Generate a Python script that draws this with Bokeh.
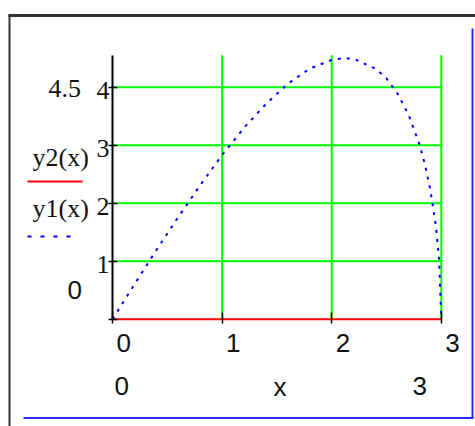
from bokeh.plotting import figure
from bokeh.models import Label, LabelSet, Arrow, FixedTicker, Range1d, ColumnDataSource
from bokeh.core.properties import value
from bokeh.embed import file_html
from bokeh.resources import INLINE

# ---- data ----
x_vals = [0.0, 0.2, 0.4, 0.6, 0.8, 1.0, 1.2, 1.4, 1.6, 1.8, 2.0, 2.1, 2.2, 2.4, 2.5, 2.6, 2.7, 2.8, 2.85, 2.9, 2.95, 2.98, 3.0]
y1_vals = [0.0, 0.60, 1.19, 1.76, 2.31, 2.83, 3.30, 3.71, 4.06, 4.32, 4.47, 4.50, 4.49, 4.32, 4.15, 3.89, 3.53, 3.02, 2.67, 2.23, 1.62, 1.03, 0.0]
y2_x = [0.0, 3.0]
y2_vals = [0.0, 0.0]
x_ticks = [0, 1, 2, 3]
x_tick_labels = ["0", "1", "2", "3"]
y_ticks = [0, 1, 2, 3, 4]
y_label_ticks = [1, 2, 3, 4]
y_tick_labels = ["1", "2", "3", "4"]
grid_x = [1, 2, 3]
grid_y = [1, 2, 3, 4]
x_lo, x_hi = 0.0, 3.0
y_lo, y_box_top = 0.0, 4.55
x_limit_labels = ["0", "3"]
y_limit_labels = ["0", "4.5"]
x_name = "x"
trace_names = ["y2(x)", "y1(x)"]

SERIF = "Liberation Serif"
SANS = "Liberation Sans"
W, H = 475, 426

# the frame covers the whole canvas; data ranges chosen so the plot box sits where it does
p = figure(width=W, height=H, output_backend="svg", toolbar_location=None,
           x_range=Range1d(-1.0219, 3.312), y_range=Range1d(-1.85, 5.495),
           min_border=0, background_fill_color="white", border_fill_color="white")
p.outline_line_color = None
p.grid.visible = False

# grid lines (green) inside the plot box
p.segment(x0=grid_x, y0=[y_lo] * len(grid_x), x1=grid_x, y1=[y_box_top] * len(grid_x),
          line_color="#00ff00", line_width=2)
p.segment(x0=[x_lo] * len(grid_y), y0=grid_y, x1=[x_hi] * len(grid_y), y1=grid_y,
          line_color="#00ff00", line_width=2)

# axes at fixed locations
xa = p.xaxis[0]
xa.fixed_location = 0
xa.bounds = (x_lo, x_hi)
xa.ticker = FixedTicker(ticks=x_ticks)
xa.axis_line_color = None
xa.major_tick_line_color = "black"
xa.major_tick_line_width = 1.5
xa.major_tick_in = 7
xa.major_tick_out = 4
xa.minor_tick_line_color = None
xa.major_label_overrides = {t: "" for t in x_ticks}

ya = p.yaxis[0]
ya.fixed_location = 0
ya.bounds = (y_lo, y_box_top)
ya.ticker = FixedTicker(ticks=y_ticks)
ya.axis_line_color = "black"
ya.axis_line_width = 2
ya.major_tick_line_color = "black"
ya.major_tick_line_width = 1.5
ya.major_tick_in = 5
ya.major_tick_out = 4
ya.minor_tick_line_color = None
ya.major_label_overrides = {t: "" for t in y_ticks}

# traces
p.line(y2_x, y2_vals, line_color="#ff0000", line_width=2)
p.line(x_vals, y1_vals, line_color="#0000ff", line_width=2, line_dash="3 6")

# tick labels placed the way Mathcad places them
xsrc = ColumnDataSource(dict(x=x_ticks, y=[0] * len(x_ticks), t=x_tick_labels))
p.add_layout(LabelSet(x="x", y="y", text="t", source=xsrc, x_offset=4, y_offset=-33,
                      text_font=value(SANS), text_font_size=value("26px"), text_align="left",
                      text_baseline="alphabetic", text_color="#111111"))
ysrc = ColumnDataSource(dict(x=[0] * len(y_label_ticks), y=y_label_ticks, t=y_tick_labels))
p.add_layout(LabelSet(x="x", y="y", text="t", source=ysrc, x_offset=-3, y_offset=-12,
                      text_font=value(SERIF), text_font_size=value("26px"), text_align="right",
                      text_baseline="alphabetic", text_color="#111111"))

# page pixel -> screen units (frame == canvas)
def sx(px):
    return px
def sy(py):
    return H - py

LABEL_FIX = 9  # single Label draws lower than LabelSet for the same baseline

def lab(text, px, py, font, size):
    p.add_layout(Label(x=sx(px), y=sy(py - LABEL_FIX), x_units="screen", y_units="screen", text=text,
                       text_font=font, text_font_size=size, text_align="left",
                       text_baseline="alphabetic", text_color="#111111"))

lab(y_limit_labels[1], 48, 97, SERIF, "26px")
lab(y_limit_labels[0], 67, 298, SANS, "26px")
lab(x_limit_labels[0], 114, 394, SANS, "26px")
lab(x_limit_labels[1], 412, 394, SANS, "26px")
lab(x_name, 273, 395, SANS, "26px")
lab(trace_names[0], 32, 166, SERIF, "26px")
lab(trace_names[1], 32, 217, SERIF, "26px")

def seg(x0, y0, x1, y1, color, width, dash="solid"):
    p.add_layout(Arrow(end=None, x_start=sx(x0), y_start=sy(y0), x_end=sx(x1), y_end=sy(y1),
                       start_units="screen", end_units="screen",
                       line_color=color, line_width=width, line_dash=dash))

# legend samples
seg(27, 181, 82, 181, "#ff0000", 2)
seg(27, 236, 74, 236, "#0000ff", 2, "4 9")

# outer region frame
seg(8, 15, 475, 15, "#333333", 3)
seg(9, 14, 9, 426, "#333333", 2)
# blue region marks
seg(23, 417.5, 473, 417.5, "#2a2aff", 2)
seg(472, 28, 472, 418, "#2a2aff", 2)

open("out.html", "w").write(file_html(p, INLINE))
